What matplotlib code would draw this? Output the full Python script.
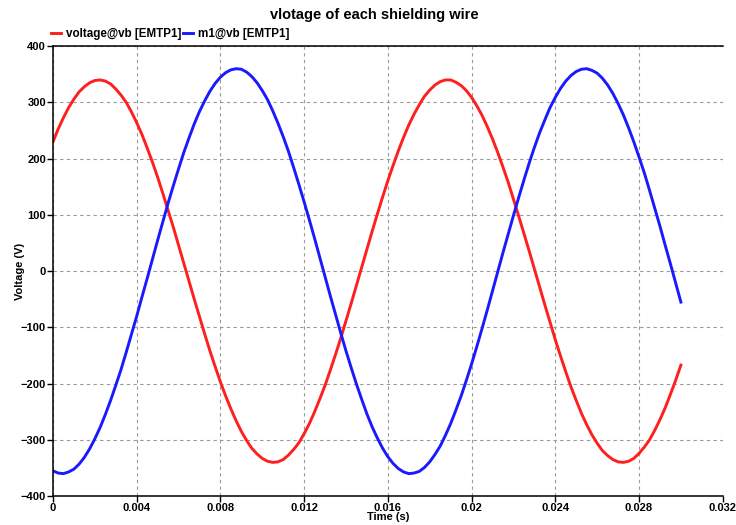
import numpy as np
import matplotlib
matplotlib.use('Agg')
import matplotlib.pyplot as plt
from matplotlib.ticker import FuncFormatter

# Dados (passo de 0.00025 s)
tensaoVb = [230, 253, 273, 291, 306, 319, 328, 335, 339, 340,
            338, 333, 324, 313, 300, 283, 264, 243, 219, 194,
            167, 138, 108, 78, 46, 14, -18, -50, -81, -112,
            -142, -170, -197, -222, -245, -266, -285, -301, -315, -325,
            -333, -338, -340, -339, -335, -327, -317, -305, -289, -271,
            -250, -227, -203, -176, -148, -119, -88, -57, -25, 7,
            39, 71, 102, 132, 161, 188, 214, 238, 260, 279,
            296, 311, 322, 331, 337, 340, 340, 336, 330, 321,
            309, 294, 277, 257, 235, 211, 185, 158, 128, 98,
            67, 36, 4, -28, -60, -91, -122, -151, -179, -206,
            -230, -253, -273, -291, -306, -319, -328, -335, -339, -340,
            -338, -333, -324, -313, -300, -283, -264, -243, -219, -194,
            -167]
tensaoM1 = [-355, -359, -360, -357, -352, -343, -331, -316, -298, -278,
            -255, -230, -203, -175, -144, -112, -80, -46, -13, 21,
            55, 88, 121, 152, 182, 211, 237, 262, 284, 303,
            320, 334, 345, 353, 358, 360, 359, 354, 346, 335,
            321, 305, 285, 263, 239, 213, 184, 154, 123, 91,
            58, 24, -10, -44, -77, -110, -142, -172, -201, -228,
            -254, -277, -297, -315, -330, -342, -351, -357, -360, -359,
            -356, -349, -339, -326, -311, -292, -271, -247, -222, -194,
            -165, -134, -102, -69, -35, -1, 33, 66, 99, 131,
            162, 192, 220, 246, 269, 291, 309, 325, 338, 348,
            355, 359, 360, 357, 352, 343, 331, 316, 298, 278,
            255, 230, 203, 175, 144, 112, 80, 46, 13, -21,
            -55]
tempo = [i * 0.00025 for i in range(len(tensaoVb))]
nomes = ['voltage@vb [EMTP1]', 'm1@vb [EMTP1]']
ticksX = [0, 0.004, 0.008, 0.012, 0.016, 0.02, 0.024, 0.028, 0.032]
ticksY = [-400, -300, -200, -100, 0, 100, 200, 300, 400]

plt.rcParams['font.family'] = ['Liberation Sans', 'DejaVu Sans']
plt.rcParams['font.weight'] = 'bold'

fig = plt.figure(figsize=(7.36, 5.25), dpi=100)
ax = fig.add_axes([0.072, 0.055, 0.91, 0.857])

ax.plot(tempo, tensaoVb, color='#ff1f1f', lw=2.1, label=nomes[0], solid_joinstyle='round')
ax.plot(tempo, tensaoM1, color='#1a1aff', lw=2.1, label=nomes[1], solid_joinstyle='round')

ax.set_xlim(0, 0.032)
ax.set_ylim(-400, 400)
ax.set_xticks(ticksX)
ax.set_yticks(ticksY)
ax.xaxis.set_major_formatter(FuncFormatter(lambda v, p: ('%g' % round(v, 4))))
ax.yaxis.set_major_formatter(FuncFormatter(lambda v, p: ('%d' % v).replace('-', '\u2212')))
ax.tick_params(labelsize=8, length=4, width=1, pad=1)
for lab in ax.get_xticklabels() + ax.get_yticklabels():
  lab.set_fontweight('bold')

ax.grid(True, color='#999999', linestyle=(0, (3, 3)), linewidth=0.8)
ax.spines['right'].set_visible(False)
for s in ['left', 'bottom', 'top']:
  ax.spines[s].set_linewidth(1.1)

ax.set_xlabel('Time (s)', fontsize=8, fontweight='bold', labelpad=-1)
ax.set_ylabel('Voltage (V)', fontsize=8, fontweight='bold', labelpad=-3)
fig.suptitle('vlotage of each shielding wire', fontsize=10.5, fontweight='bold', x=0.508, y=0.985)

ax.legend(loc='lower left', bbox_to_anchor=(-0.005, 1.012), ncol=2, frameon=False,
          handlelength=0.9, handletextpad=0.4, columnspacing=0.1,
          borderaxespad=0, borderpad=0.1, prop={'weight': 'bold', 'size': 8.4})

plt.savefig('out.png', dpi=100)
